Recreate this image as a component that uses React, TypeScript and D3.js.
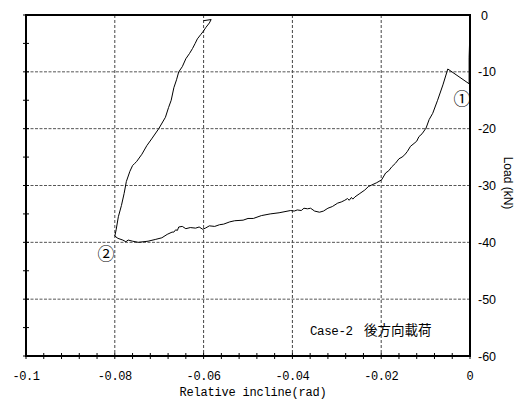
import React from "react";
import * as d3 from "d3";

// Relative incline (rad) and load (kN), in loading order
const inclineData: number[] = [
  -0.0001, -0.0001, -0.0002, -0.0002, -0.0002,
  -0.0050,
  -0.0061, -0.0073, -0.0084, -0.0092, -0.0099, -0.0108, -0.0115, -0.0120, -0.0126, -0.0134, -0.0141, -0.0147, -0.0153, -0.0160, -0.0168, -0.0176, -0.0183, -0.0190, -0.0199,
  -0.0210, -0.0221, -0.0229, -0.0237, -0.0248, -0.0259, -0.0264, -0.0267, -0.0272, -0.0276, -0.0282, -0.0290, -0.0298, -0.0310, -0.0320, -0.0330, -0.0339,
  -0.0350, -0.0359, -0.0366, -0.0374, -0.0380, -0.0389, -0.0396, -0.0404,
  -0.0430, -0.0450, -0.0470, -0.0488, -0.0500, -0.0511, -0.0530, -0.0541, -0.0555, -0.0564, -0.0575, -0.0587, -0.0596, -0.0602,
  -0.0610, -0.0618, -0.0630, -0.0640, -0.0648, -0.0656, -0.0659, -0.0663, -0.0667, -0.0671, -0.0682, -0.0694, -0.0709, -0.0725, -0.0747,
  -0.0760, -0.0770, -0.0775, -0.0782, -0.0793, -0.0800,
  -0.0797, -0.0792, -0.0785, -0.0779, -0.0774, -0.0766, -0.0760, -0.0755, -0.0751, -0.0739, -0.0728, -0.0717, -0.0701, -0.0686, -0.0679, -0.0673, -0.0667, -0.0661, -0.0656, -0.0648, -0.0640, -0.0632, -0.0625, -0.0619, -0.0614, -0.0606, -0.0600, -0.0595, -0.0587, -0.0583,
  -0.0600
];
const loadData: number[] = [
  -2.5, -5.0, -7.5, -10.0, -12.1,
  -9.5,
  -12.3, -15.0, -17.3, -18.4, -19.9, -20.9, -21.4, -22.2, -22.6, -23.1, -24.0, -24.6, -25.0, -25.3, -26.1, -26.7, -27.4, -27.8, -29.0,
  -29.5, -29.9, -30.2, -30.8, -31.4, -32.0, -32.4, -32.1, -32.6, -32.3, -32.6, -32.9, -33.1, -33.7, -34.0, -34.5, -34.7,
  -34.5, -34.0, -34.1, -34.0, -34.4, -34.3, -34.5, -34.4,
  -34.8, -35.0, -35.3, -35.8, -35.8, -36.1, -36.2, -36.4, -36.8, -36.9, -37.2, -37.1, -37.5, -37.7,
  -37.3, -37.5, -37.4, -37.6, -37.2, -37.3, -37.9, -37.8, -38.2, -38.2, -38.6, -39.2, -39.5, -39.8, -40.0,
  -39.8, -39.6, -39.9, -39.6, -39.3, -38.9,
  -37.8, -35.5, -33.5, -31.4, -29.3, -27.5, -26.5, -26.1, -25.8, -24.5, -23.0, -21.8, -20.0, -18.0, -16.3, -15.0, -12.8, -11.4, -10.0, -9.1, -7.7, -6.8, -5.9, -5.0, -4.2, -3.4, -2.8, -2.2, -1.4, -0.8,
  -1.0
];

const xTickValues: number[] = [-0.1, -0.08, -0.06, -0.04, -0.02, 0];
const xTickLabels: string[] = ["-0.1", "-0.08", "-0.06", "-0.04", "-0.02", "0"];
const yTickValues: number[] = [0, -10, -20, -30, -40, -50, -60];
const yTickLabels: string[] = ["0", "-10", "-20", "-30", "-40", "-50", "-60"];
const xMinorTicks: number[] = d3.range(0, 26).map((i) => -0.1 + i * 0.004);
const yMinorTicks: number[] = d3.range(0, 13).map((i) => -i * 5);

const xTitle = "Relative incline(rad)";
const yTitle = "Load (kN)";
const caseLabel = "Case-2";
const caseLabelJa = "後方向載荷";

export default function App() {
  const W = 529, H = 401;
  const left = 26, right = 470, top = 15, bottom = 356;
  const x = d3.scaleLinear().domain([-0.1, 0]).range([left, right]);
  const y = d3.scaleLinear().domain([0, -60]).range([top, bottom]);
  const pts: [number, number][] = inclineData.map((v, i) => [v, loadData[i]]);
  const line = d3.line<[number, number]>().x((d) => x(d[0])).y((d) => y(d[1]));
  const mono = "'Liberation Mono', 'DejaVu Sans Mono', monospace";
  const sans = "'Liberation Sans', Arial, sans-serif";
  const ja = "'Noto Sans CJK JP', sans-serif";

  return (
    <svg width={W} height={H} style={{ position: "absolute", left: 0, top: 0, background: "#fff" }}>
      <rect x={0} y={0} width={W} height={H} fill="#fff" />
      {/* grid */}
      {xTickValues.slice(1, -1).map((v) => (
        <line key={"gx" + v} x1={x(v)} x2={x(v)} y1={top} y2={bottom} stroke="#444" strokeWidth={1} strokeDasharray="3,2" />
      ))}
      {yTickValues.slice(1, -1).map((v) => (
        <line key={"gy" + v} x1={left} x2={right} y1={y(v)} y2={y(v)} stroke="#555" strokeWidth={1} strokeDasharray="3,1.5" />
      ))}
      {/* minor ticks */}
      {xMinorTicks.map((v, i) => (
        <line key={"xt" + i} x1={x(v)} x2={x(v)} y1={bottom - 3} y2={bottom + 3} stroke="#000" strokeWidth={1} />
      ))}
      {yMinorTicks.map((v, i) => (
        <line key={"yt" + i} x1={left - 3} x2={left + 3} y1={y(v)} y2={y(v)} stroke="#000" strokeWidth={1} />
      ))}
      {/* frame */}
      <rect x={left} y={top} width={right - left} height={bottom - top} fill="none" stroke="#000" strokeWidth={2} />
      {/* data */}
      <path d={line(pts) || ""} fill="none" stroke="#000" strokeWidth={1} />
      {/* x tick labels */}
      {xTickValues.map((v, i) => (
        <text key={"xl" + i} x={x(v)} y={380} textAnchor="middle" fontFamily={mono} fontSize={12} letterSpacing={-0.4} fill="#000">
          {xTickLabels[i]}
        </text>
      ))}
      {/* y tick labels (right side) */}
      {yTickValues.map((v, i) => (
        <text key={"yl" + i} x={v === 0 ? 481 : 478} y={y(v) + 4.5} textAnchor="start" fontFamily={sans} fontSize={12.5} fill="#000">
          {yTickLabels[i]}
        </text>
      ))}
      <text x={253} y={396} textAnchor="middle" fontFamily={mono} fontSize={12} letterSpacing={-0.2} fill="#000">
        {xTitle}
      </text>
      <text transform={`translate(504,183) rotate(90)`} textAnchor="middle" fontFamily={sans} fontSize={12} fill="#000">
        {yTitle}
      </text>
      <text x={310} y={335} fontFamily={mono} fontSize={12.5} letterSpacing={-0.4} fill="#000">
        {caseLabel}
      </text>
      <text x={364} y={335} fontFamily={ja} fontSize={13.5} fill="#000">
        {caseLabelJa}
      </text>
      <text x={462} y={105} textAnchor="middle" fontFamily={ja} fontSize={17} fill="#000">①</text>
      <text x={106} y={260} textAnchor="middle" fontFamily={ja} fontSize={17} fill="#000">②</text>
    </svg>
  );
}
